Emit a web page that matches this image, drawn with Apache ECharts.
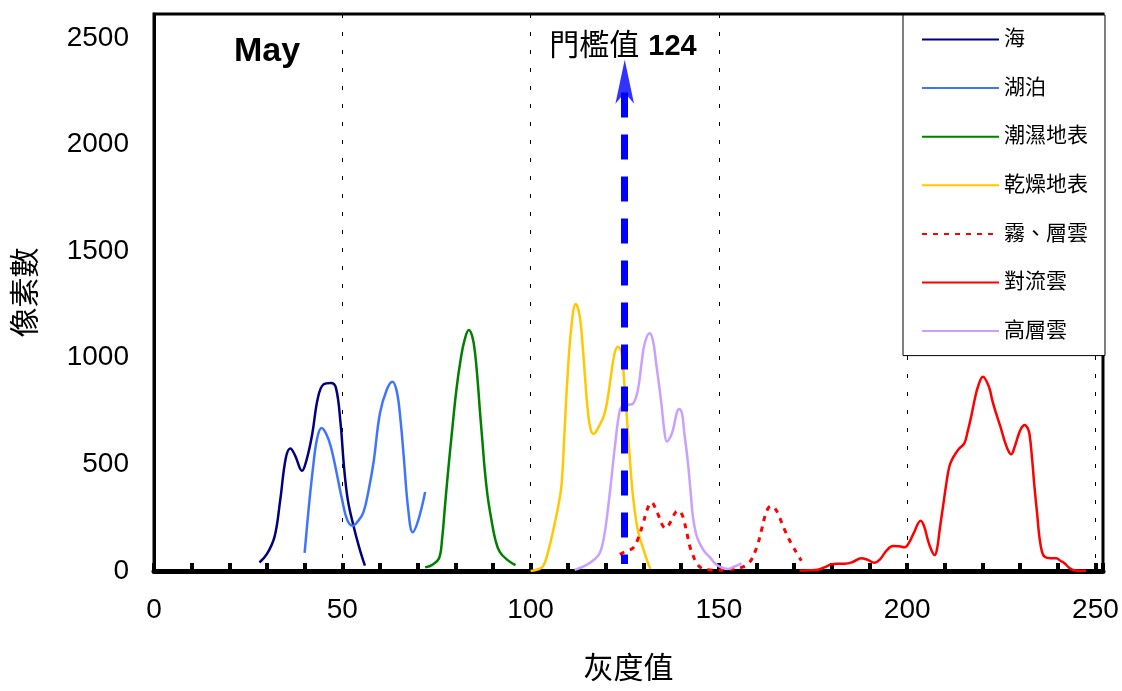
<!DOCTYPE html>
<html><head><meta charset="utf-8">
<script src="https://cdn.jsdelivr.net/npm/echarts@6/dist/echarts.min.js"></script>
<style>html,body{margin:0;padding:0;background:#fff}#c{width:1122px;height:691px}</style>
</head><body><div id="c"></div>
<script>
// ---- data ----
const seriesNames = ['海','湖泊','潮濕地表','乾燥地表','霧、層雲','對流雲','高層雲'];
const xAxisName = '灰度值';
const yAxisName = '像素數';
const monthLabel = 'May';
const thresholdText = '門檻值';
const thresholdValue = '124';
const thresholdLine = [[125, 2244], [125, 33]];
const thresholdArrow = [[125, 2397]];

const sea = [[28,40],[30,80],[32,160],[33.5,330],[35,530],[36.2,575],[37.5,540],[39.3,470],[40.5,520],[42,640],[43.5,810],[45,875],[47,882],[48.3,860],[49.5,700],[50.5,480],[51.5,330],[53,210],[54.5,110],[56,25]];
const lake = [[40,85],[41,280],[42.2,480],[43.3,620],[44.5,670],[45.8,640],[47,580],[48.5,460],[50,330],[51.3,240],[52.7,212],[54.2,235],[55.6,275],[57,380],[58.3,510],[60,740],[61.8,850],[63.3,888],[64.5,840],[65.5,700],[66.3,540],[67.5,290],[68.7,182],[70.2,240],[72,370]];
const wetLand = [[72,17],[74,30],[75.7,60],[76.5,150],[77.2,290],[78,450],[79,630],[80.3,850],[81.5,1000],[82.5,1085],[83.6,1130],[84.5,1100],[85.2,1030],[86,880],[86.5,760],[87.2,610],[87.8,480],[88.6,350],[89.6,240],[90.6,150],[91.8,90],[94,50],[96,28]];
const dryLand = [[100,0],[102,8],[103.3,22],[104.5,80],[106,190],[107.3,300],[108.2,400],[109,650],[109.7,880],[110.8,1140],[112,1252],[113,1200],[113.8,1060],[114.5,900],[115.2,750],[116,660],[116.8,643],[117.6,660],[118.5,690],[119.5,730],[120.3,790],[121.3,910],[122.3,1020],[123.2,1052],[124.2,1020],[124.8,900],[125.4,760],[126.3,540],[127.2,350],[128.5,190],[130.3,83],[131.8,10]];
const fogStratus = [[123.7,78],[125.5,95],[127.2,108],[128.5,150],[129.9,225],[131,290],[132.1,322],[133,300],[133.8,268],[135,215],[135.9,200],[136.7,215],[137.4,240],[138.5,275],[139.4,283],[140.2,265],[140.9,225],[141.6,170],[142.3,115],[143.2,70],[144,40],[145,18],[146.2,8],[147.6,5],[149.5,3],[152,5],[154,10],[156,17],[157.5,30],[158.6,52],[159.6,90],[160.4,130],[161.3,190],[162.2,255],[163.1,295],[163.9,305],[164.8,295],[165.7,270],[166.6,230],[167.5,192],[168.6,150],[169.7,114],[170.8,80],[171.9,48]];
const convective = [[171.4,2],[174,3],[176.3,6],[178.2,18],[179.8,31],[181.5,34],[183.4,34],[185.5,42],[187.8,60],[189.5,52],[191.3,39],[192.8,55],[194.5,95],[196.2,117],[197.8,116],[199.3,111],[200.4,130],[201.8,180],[203.6,236],[204.5,210],[205.5,145],[206.5,95],[207.3,75],[208,110],[208.6,190],[209.5,300],[210.4,411],[211.2,490],[212.1,529],[213.6,570],[215.2,600],[216,650],[217,724],[218,810],[218.8,864],[220.1,911],[221.7,864],[222.6,800],[223.6,740],[224.7,680],[225.8,614],[226.7,570],[227.6,547],[228.5,580],[229.4,630],[230.3,670],[231.2,685],[232,670],[232.5,640],[233.2,520],[233.8,395],[234.5,270],[235.1,161],[235.8,90],[236.5,67],[238,60],[239.6,60],[240.7,48],[241.8,36],[243,15],[244,5],[246,1],[247.5,1]];
const altostratus = [[111.7,5],[114.8,28],[117,55],[118.4,85],[119.6,170],[120.6,300],[121.5,440],[122.3,570],[123.7,755],[124.6,775],[126,780],[127.2,785],[128.5,850],[129.5,980],[130.3,1068],[131.6,1115],[132.5,1080],[133.3,980],[134.7,790],[135.5,660],[136.2,607],[137,625],[137.8,661],[138.8,740],[139.4,760],[140.2,740],[140.8,650],[141.8,505],[142.5,370],[143.1,255],[144,170],[144.9,130],[146.2,90],[147.6,65],[149,35],[150.5,18],[152.4,9],[154,20],[156,36]];

// ---- chart ----
const FONT = '"Liberation Sans", "Noto Sans CJK TC", sans-serif';
const seriesData = [sea, lake, wetLand, dryLand, fogStratus, convective, altostratus];
const colors = ['#000080', '#3F74FF', '#008000', '#FFC800', '#FF0000', '#FF0000', '#C9A0FF'];
const lineTypes = ['solid','solid','solid','solid',[5,6],'solid','solid'];

const chart = echarts.init(document.getElementById('c'), null, {renderer: 'canvas'});
const series = seriesData.map((d, i) => ({
  name: seriesNames[i], type: 'line', data: d, smooth: 0.4, symbol: 'none',
  xAxisIndex: 0, yAxisIndex: 0,
  lineStyle: {color: colors[i], width: i === 4 ? 3 : 2.5, type: lineTypes[i]},
  itemStyle: {color: colors[i]}, z: 3
}));
series.push({
  name: 'threshold', type: 'scatter', data: thresholdArrow, symbol: 'arrow', symbolSize: [14, 44],
  itemStyle: {color: '#0000FF'}, z: 10, silent: true,
  markLine: {
    silent: true, symbol: 'none', animation: false, z: 10,
    lineStyle: {color: '#0000FF', width: 7, type: [25, 17]},
    label: {show: false},
    emphasis: {disabled: true},
    data: [[{coord: thresholdLine[0]}, {coord: thresholdLine[1]}]]
  }
});

chart.setOption({
  animation: false,
  backgroundColor: '#fff',
  grid: {left: 154, right: 19, top: 14, bottom: 120, show: true, borderColor: '#000', borderWidth: 3, backgroundColor: '#fff'},
  legend: {
    data: seriesNames, orient: 'vertical', left: 903, top: 15,
    padding: [14, 17, 14, 18], itemGap: 27.6, itemWidth: 77, itemHeight: 14,
    itemStyle: {opacity: 0, borderWidth: 0},
    backgroundColor: '#fff', borderColor: '#000', borderWidth: 1, borderRadius: 0,
    textStyle: {fontSize: 21, lineHeight: 21, color: '#000', fontFamily: FONT},
    selectedMode: false
  },
  xAxis: [{
    type: 'value', min: 0, max: 252, interval: 50, position: 'bottom',
    name: xAxisName, nameLocation: 'middle', nameGap: 84,
    nameTextStyle: {fontSize: 30, color: '#000', fontFamily: FONT},
    axisLine: {show: true, lineStyle: {color: '#000', width: 5}},
    axisTick: {show: false},
    axisLabel: {fontSize: 28, color: '#000', fontFamily: FONT, margin: 25,
      formatter: v => (v % 50 === 0 ? String(v) : '')},
    splitLine: {show: true, lineStyle: {color: '#000', width: 1, type: [4, 14]}}
  }, {
    type: 'value', min: 0, max: 252, interval: 10, position: 'bottom',
    axisLine: {show: false}, axisLabel: {show: false}, splitLine: {show: false},
    axisTick: {show: true, inside: true, length: 8, lineStyle: {color: '#000', width: 4}}
  }],
  yAxis: {
    type: 'value', min: 0, max: 2612, interval: 500,
    name: yAxisName, nameLocation: 'middle', nameGap: 112, nameRotate: 90,
    nameTextStyle: {fontSize: 30, color: '#000', fontFamily: FONT},
    axisLine: {show: true, lineStyle: {color: '#000', width: 3}},
    axisTick: {show: false},
    axisLabel: {fontSize: 28, color: '#000', fontFamily: FONT, margin: 25,
      formatter: v => (v % 500 === 0 ? String(v) : '')},
    splitLine: {show: false}
  },
  graphic: [
    {type: 'text', x: 234, y: 52, z: 20,
      style: {text: monthLabel, font: 'bold 34px "Liberation Sans", sans-serif', fill: '#000', verticalAlign: 'middle', align: 'left'}},
    {type: 'text', x: 623, y: 47, z: 20,
      style: {text: '{a|' + thresholdText + '}{b|' + thresholdValue + '}', align: 'center', verticalAlign: 'middle',
        rich: {a: {fontSize: 30, fontFamily: FONT, fill: '#000', color: '#000'},
               b: {fontSize: 29, fontWeight: 'bold', fontFamily: FONT, fill: '#000', color: '#000', padding: [0, 0, 0, 9]}}}}
  ],
  series: series
});
</script></body></html>
